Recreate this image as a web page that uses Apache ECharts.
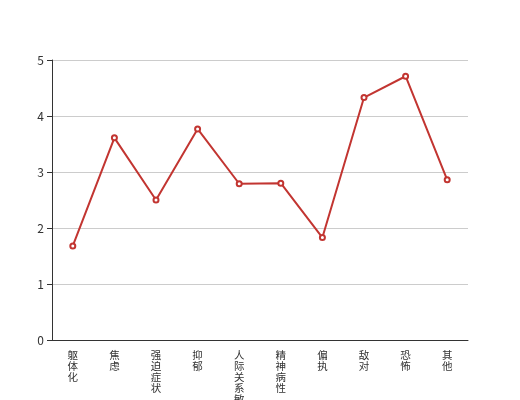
<!DOCTYPE html>
<html lang="zh">
<head>
    <meta charset="UTF-8">
    <title>症状因子得分</title>
    <script src="https://cdn.jsdelivr.net/npm/echarts/dist/echarts.min.js"></script>
    <style>
        body { margin: 0; background: #ffffff; }
        #chart { width: 520px; height: 400px; }
    </style>
</head>
<body>
    <div id="chart"></div>
    <script>
        const categories = ['躯体化', '焦虑', '强迫症状', '抑郁', '人际关系敏感', '精神病性', '偏执', '敌对', '恐怖', '其他'];
        const scores = [1.68, 3.61, 2.5, 3.77, 2.79, 2.8, 1.83, 4.33, 4.71, 2.86];

        let option = {
            backgroundColor: '#ffffff',
            textStyle: { fontFamily: '"Noto Sans CJK SC", sans-serif' },
            grid: { left: 52, right: 52, top: 60, bottom: 60, outerBoundsMode: 'none' },
            xAxis: {
                type: 'category',
                data: categories,
                axisLine: { lineStyle: { color: '#333' } },
                axisTick: { lineStyle: { color: '#333' } },
                axisLabel: {
                    color: '#333',
                    fontSize: 10.5,
                    lineHeight: 11,
                    margin: 10,
                    interval: 0,
                    // stack each character vertically
                    formatter: function (v) { return v.split('').join('\n'); }
                }
            },
            yAxis: {
                type: 'value',
                min: 0,
                max: 5,
                interval: 1,
                axisLine: { show: true, lineStyle: { color: '#333' } },
                axisTick: { show: true, lineStyle: { color: '#333' } },
                axisLabel: { color: '#333', fontSize: 12 },
                splitLine: { lineStyle: { color: '#ccc' } }
            },
            series: [{
                type: 'line',
                data: scores,
                symbol: 'emptyCircle',
                symbolSize: 5,
                itemStyle: { color: '#c23531', borderWidth: 1 },
                lineStyle: { color: '#c23531', width: 2 }
            }]
        };

        let chart = echarts.init(document.getElementById('chart'));
        chart.setOption(option);
    </script>
</body>
</html>
